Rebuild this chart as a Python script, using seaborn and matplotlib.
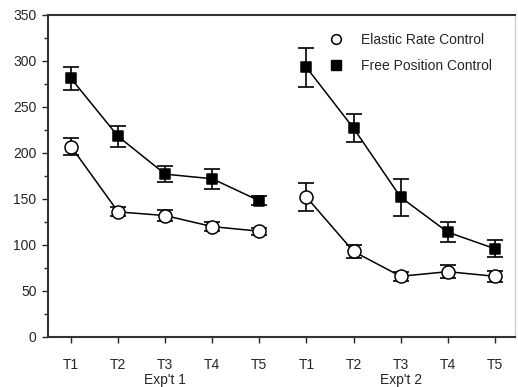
import numpy as np
import pandas as pd
import matplotlib
matplotlib.use("Agg")
import matplotlib.pyplot as plt
import matplotlib.transforms as mtransforms
from matplotlib.lines import Line2D
import seaborn as sns

# Trial labels and session grouping
trials = ["T1", "T2", "T3", "T4", "T5"]
experiments = ["Exp't 1", "Exp't 2"]

# Mean values per trial (Exp't 1 then Exp't 2)
elastic_exp1 = [207, 136, 132, 120, 115]
elastic_exp2 = [152, 93, 66, 71, 66]
free_exp1 = [281, 218, 177, 172, 148]
free_exp2 = [293, 227, 152, 114, 96]

# Error bar half-widths
elastic_err1 = [9, 5, 6, 5, 4]
elastic_err2 = [15, 7, 5, 7, 6]
free_err1 = [13, 11, 9, 11, 5]
free_err2 = [21, 15, 20, 11, 9]

y_ticks = [0, 50, 100, 150, 200, 250, 300, 350]

conditions = ["Elastic Rate Control", "Free Position Control"]

rows = []
for cond, means, errs in [
    (conditions[0], [elastic_exp1, elastic_exp2], [elastic_err1, elastic_err2]),
    (conditions[1], [free_exp1, free_exp2], [free_err1, free_err2]),
]:
    for e, exp in enumerate(experiments):
        for t, trial in enumerate(trials):
            rows.append({
                "condition": cond,
                "experiment": exp,
                "trial": trial,
                "pos": e * len(trials) + t + 1,
                "mean": means[e][t],
                "err": errs[e][t],
            })
df = pd.DataFrame(rows)

sns.set_style("ticks")
plt.rcParams["font.family"] = ["Liberation Sans", "DejaVu Sans"]
plt.rcParams["font.size"] = 10

fig = plt.figure(figsize=(5.18, 3.87), dpi=100)
ax = fig.add_axes([48 / 518, (387 - 337) / 387, (515 - 48) / 518, (337 - 15) / 387])

# Connecting lines, one per condition within each experiment
sns.lineplot(data=df, x="pos", y="mean", hue="condition", units="experiment",
             estimator=None, palette={c: "black" for c in conditions},
             linewidth=1.1, legend=False, ax=ax, zorder=2, sort=True)

# Error bars
ax.errorbar(df["pos"], df["mean"], yerr=df["err"], fmt="none", ecolor="black",
            elinewidth=1.2, capsize=5.5, capthick=1.2, zorder=3)

# Markers
styles = {
    conditions[0]: dict(marker="o", facecolor="white", s=88),
    conditions[1]: dict(marker="s", facecolor="black", s=60),
}
for cond in conditions:
    sub = df[df["condition"] == cond]
    st = styles[cond]
    sns.scatterplot(data=sub, x="pos", y="mean", marker=st["marker"], s=st["s"],
                    color=st["facecolor"], edgecolor="black", linewidth=1.1,
                    ax=ax, zorder=4, legend=False)

ax.set_xlim(0.51, 10.43)
ax.set_ylim(0, 350)
ax.set_xticks(df["pos"].unique())
ax.set_xticklabels(trials * len(experiments))
ax.set_yticks(y_ticks)
ax.set_yticks(np.arange(25, 350, 50), minor=True)
ax.set_xlabel("")
ax.set_ylabel("")

ax.tick_params(axis="x", which="major", length=4.3, width=1, pad=10.5, labelsize=10)
ax.tick_params(axis="y", which="major", length=4.3, width=1, pad=4, labelsize=10)
ax.tick_params(axis="y", which="minor", length=3, width=1)

for side in ["left", "bottom", "top"]:
    ax.spines[side].set_color("#333333")
    ax.spines[side].set_linewidth(1.5)
ax.spines["right"].set_color("#d0d0d0")
ax.spines["right"].set_linewidth(1.0)

# Experiment group labels under the trial labels
trans = mtransforms.blended_transform_factory(ax.transData, ax.transAxes)
for e, exp in enumerate(experiments):
    ax.text(e * len(trials) + 3, -0.134, exp, transform=trans,
            ha="center", va="center", fontsize=10)

handles = [
    Line2D([], [], ls="", marker="o", markerfacecolor="white",
           markeredgecolor="black", markersize=7, markeredgewidth=1.1),
    Line2D([], [], ls="", marker="s", markerfacecolor="black",
           markeredgecolor="black", markersize=7.5),
]
ax.legend(handles, conditions, frameon=False, loc="upper left",
          bbox_to_anchor=(0.602, 0.944), borderaxespad=0, borderpad=0,
          handlelength=1.0, handletextpad=1.3, labelspacing=0.85, fontsize=10)

fig.savefig("out.png", dpi=100, facecolor="white")
